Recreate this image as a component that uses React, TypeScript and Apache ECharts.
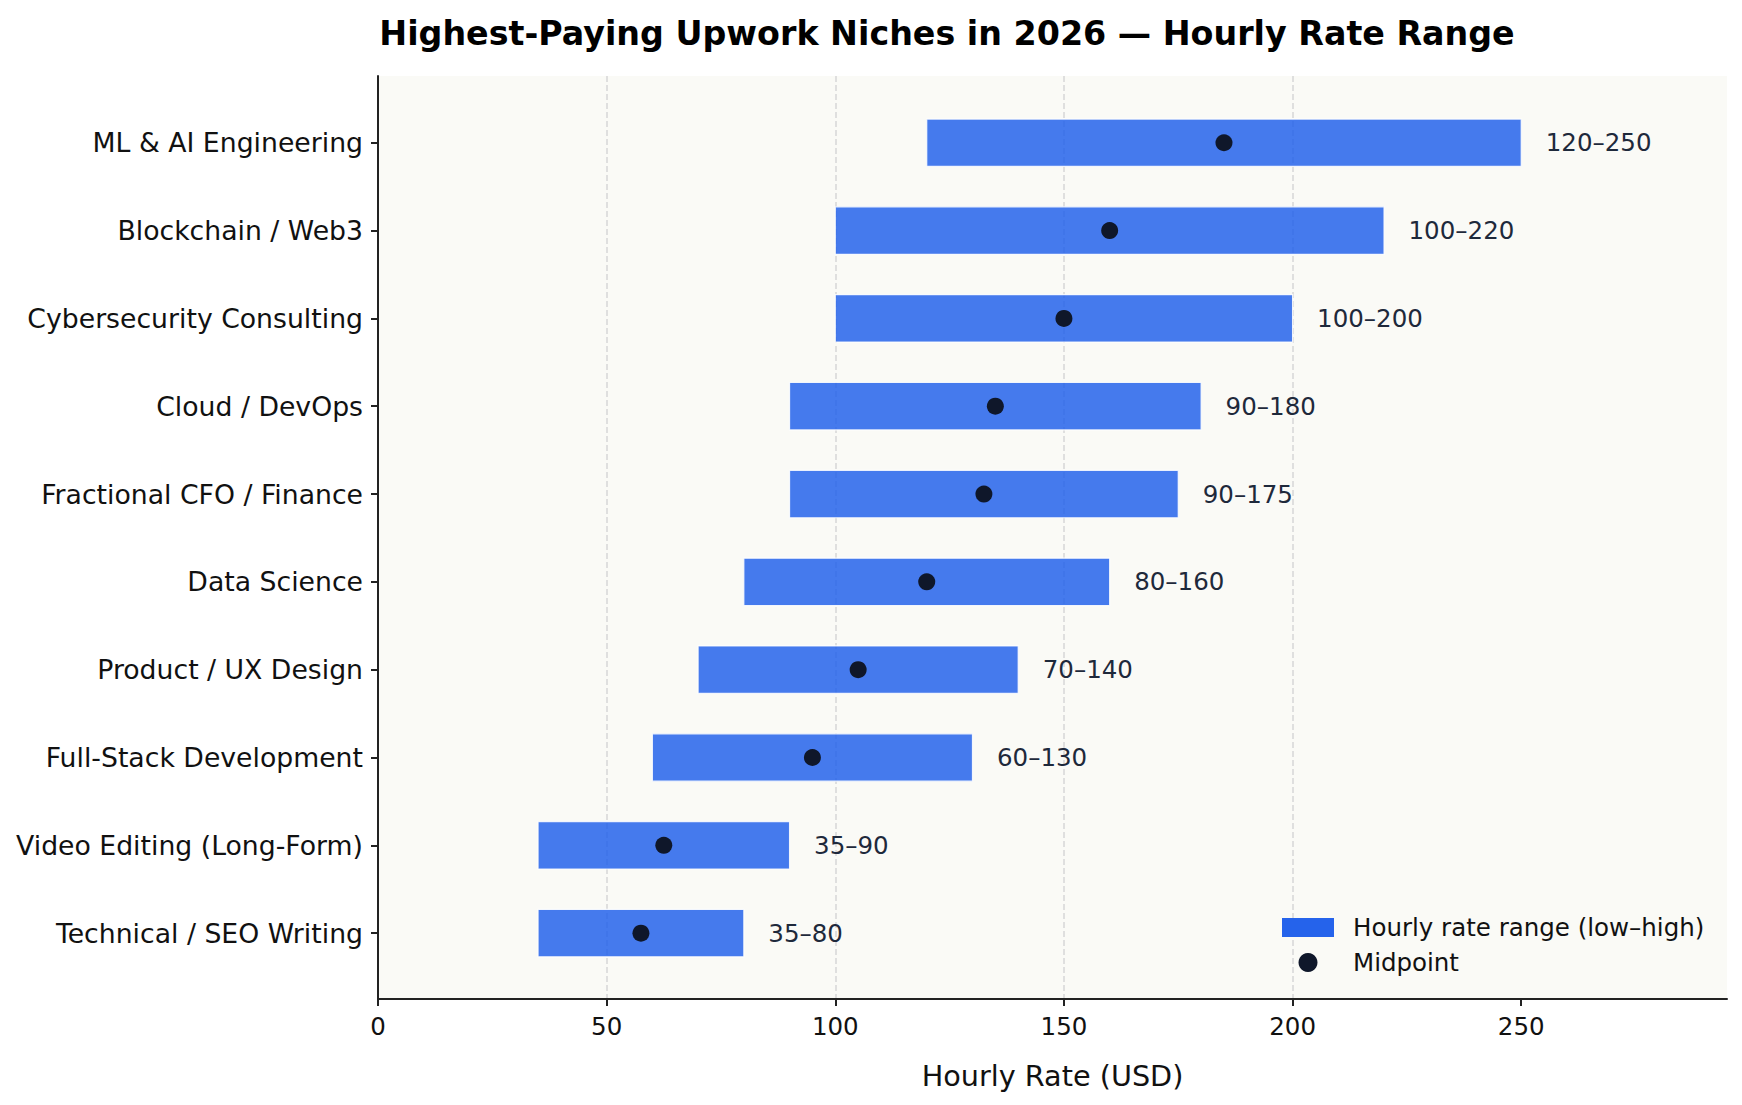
import React, { useEffect, useRef } from "react";
import * as echarts from "echarts";

const categories = [
  "ML & AI Engineering",
  "Blockchain / Web3",
  "Cybersecurity Consulting",
  "Cloud / DevOps",
  "Fractional CFO / Finance",
  "Data Science",
  "Product / UX Design",
  "Full-Stack Development",
  "Video Editing (Long-Form)",
  "Technical / SEO Writing",
];
const lowRates = [120, 100, 100, 90, 90, 80, 70, 60, 35, 35];
const highRates = [250, 220, 200, 180, 175, 160, 140, 130, 90, 80];
const midpoints = [185, 160, 150, 135, 132.5, 120, 105, 95, 62.5, 57.5];
const xTicks = [0, 50, 100, 150, 200, 250];
const yTicks = [0, 1, 2, 3, 4, 5, 6, 7, 8, 9];

const FONT = "DejaVu Sans";
const HALF = 0.27;

export default function App() {
  const ref = useRef<HTMLDivElement>(null);
  useEffect(() => {
    document.body.style.margin = "0";
    const chart = echarts.init(ref.current!, undefined, { renderer: "svg" });
    const barData = categories.map((_, i) => [i, lowRates[i], highRates[i]]);
    const midData = categories.map((_, i) => [midpoints[i], i]);
    chart.setOption({
      animation: false,
      backgroundColor: "#ffffff",
      textStyle: { fontFamily: FONT },
      title: {
        text: "Highest-Paying Upwork Niches in 2026 — Hourly Rate Range",
        left: 942,
        textAlign: "center",
        top: 12,
        textStyle: { fontFamily: FONT, fontWeight: "bold", fontSize: 33.3, color: "#000" },
      },
      grid: {
        left: 378,
        right: 15,
        top: 76,
        bottom: 106,
        show: true,
        backgroundColor: "#FAFAF6",
        borderWidth: 0,
      },
      legend: {
        orient: "vertical",
        left: 1282,
        top: 915,
        padding: 0,
        itemWidth: 52,
        itemHeight: 19,
        itemGap: 10,
        textStyle: { fontFamily: FONT, fontSize: 24.5, color: "#111", padding: [0, 0, 0, 14] },
        data: [
          { name: "Hourly rate range (low–high)", icon: "rect" },
          { name: "Midpoint", icon: "circle" },
        ],
      },
      xAxis: {
        type: "value",
        min: 0,
        max: 295,
        interval: 50,
        name: "Hourly Rate (USD)",
        nameLocation: "middle",
        nameGap: 62,
        nameTextStyle: { fontFamily: FONT, fontSize: 28.7, color: "#111" },
        axisLine: { show: true, onZero: false, lineStyle: { color: "#222", width: 2 } },
        axisTick: { show: true, length: 7, lineStyle: { color: "#222", width: 2 }, customValues: xTicks },
        axisLabel: {
          fontFamily: FONT,
          fontSize: 24.5,
          color: "#111",
          margin: 15,
          customValues: xTicks,
        },
        splitLine: {
          show: true,
          showMinLine: false,
          showMaxLine: false,
          lineStyle: { color: "#d9d9d9", width: 1.6, type: [6, 3] },
        },
      },
      yAxis: {
        type: "value",
        min: -0.76,
        max: 9.75,
        inverse: true,
        axisLine: { show: true, onZero: false, lineStyle: { color: "#222", width: 2 } },
        axisTick: { show: true, length: 7, lineStyle: { color: "#222", width: 2 }, customValues: yTicks },
        axisLabel: {
          fontFamily: FONT,
          fontSize: 26.7,
          color: "#111",
          margin: 15,
          customValues: yTicks,
          formatter: (v: number) => categories[Math.round(v)] ?? "",
        },
        splitLine: { show: false },
      },
      series: [
        {
          name: "Hourly rate range (low–high)",
          type: "custom",
          color: "#2563EB",
          itemStyle: { color: "#2563EB" },
          encode: { x: [1, 2], y: 0 },
          data: barData,
          z: 2,
          renderItem: (params: any, api: any) => {
            const idx = api.value(0);
            const lo = api.value(1);
            const hi = api.value(2);
            const a = api.coord([lo, idx - HALF]);
            const b = api.coord([hi, idx + HALF]);
            const c = api.coord([hi, idx]);
            const y0 = Math.min(a[1], b[1]);
            const h = Math.abs(b[1] - a[1]);
            return {
              type: "group",
              children: [
                {
                  type: "rect",
                  shape: { x: a[0], y: y0, width: b[0] - a[0], height: h },
                  style: { fill: "#2563EB", opacity: 0.85, stroke: "#ffffff", lineWidth: 1.2 },
                },
                {
                  type: "text",
                  x: c[0] + 24.5,
                  y: c[1],
                  style: {
                    text: `${lo}–${hi}`,
                    fontFamily: FONT,
                    fontSize: 24.5,
                    fill: "#1e293b",
                    verticalAlign: "middle",
                    align: "left",
                  },
                },
              ],
            };
          },
        },
        {
          name: "Midpoint",
          type: "scatter",
          data: midData,
          symbol: "circle",
          symbolSize: 17,
          itemStyle: { color: "#0F172A", opacity: 1 },
          z: 3,
        },
      ],
    });
    return () => chart.dispose();
  }, []);
  return <div ref={ref} style={{ width: 1742, height: 1105 }} />;
}
